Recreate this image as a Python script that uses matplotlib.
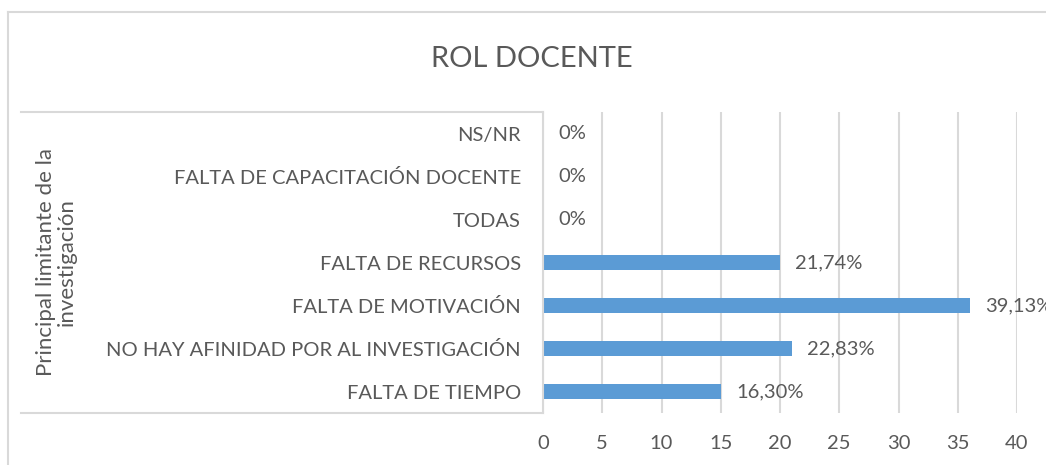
import matplotlib
matplotlib.use("Agg")
import matplotlib.pyplot as plt
from matplotlib.lines import Line2D

plt.rcParams['font.family'] = ['Lato', 'DejaVu Sans']

categories = ["FALTA DE TIEMPO", "NO HAY AFINIDAD POR AL INVESTIGACIÓN",
              "FALTA DE MOTIVACIÓN", "FALTA DE RECURSOS", "TODAS",
              "FALTA DE CAPACITACIÓN DOCENTE", "NS/NR"]
counts = [15, 21, 36, 20, 0, 0, 0]
labels = ["16,30%", "22,83%", "39,13%", "21,74%", "0%", "0%", "0%"]
xticks = [0, 5, 10, 15, 20, 25, 30, 35, 40]
title = "ROL DOCENTE"
ylabel = "Principal limitante de la\ninvestigación"

W, H = 1046, 465
fig = plt.figure(figsize=(W / 100, H / 100), dpi=100)
fig.patch.set_facecolor("white")

x0, x1, ytop, ybot = 543, 1017, 112, 413
ax = fig.add_axes([x0 / W, 1 - ybot / H, (x1 - x0) / W, (ybot - ytop) / H])

gray = "#595959"
grid = "#D9D9D9"
ypos = list(range(len(categories)))
ax.barh(ypos, counts, height=0.35, color="#5B9BD5", zorder=3)
ax.set_xlim(0, 40)
ax.set_ylim(-0.5, len(categories) - 0.5)
ax.set_xticks(xticks)
ax.set_xticklabels([str(t) for t in xticks])
ax.set_yticks(ypos)
ax.set_yticklabels(categories)
ax.tick_params(axis="both", length=0, colors=gray, labelsize=14.5)
ax.tick_params(axis="x", pad=16)
ax.tick_params(axis="y", pad=16)
for s in ax.spines.values():
    s.set_visible(False)
ax.xaxis.grid(True, color=grid, linewidth=1.5, zorder=0)
ax.set_axisbelow(True)

for y, v, lab in zip(ypos, counts, labels):
    ax.annotate(lab, (v, y), xytext=(11, 0), textcoords="offset points",
                va="center", ha="left", fontsize=14.5, color=gray,
                annotation_clip=False)

# category box lines
lc = "#D9D9D9"
fig.add_artist(Line2D([21 / W, x0 / W], [1 - ytop / H, 1 - ytop / H], color=lc, lw=1.5))
fig.add_artist(Line2D([21 / W, x0 / W], [1 - ybot / H, 1 - ybot / H], color=lc, lw=1.5))
fig.add_artist(Line2D([x0 / W, x0 / W], [1 - ytop / H, 1 - ybot / H], color=lc, lw=1.5))

# chart outer border
fig.add_artist(Line2D([8 / W, 1.0], [1 - 12 / H, 1 - 12 / H], color=lc, lw=1.5))
fig.add_artist(Line2D([8 / W, 8 / W], [1 - 12 / H, 0], color=lc, lw=1.5))

fig.text(532 / W, 1 - 59 / H, title, ha="center", va="center", fontsize=21,
         color=gray, fontweight="normal")
fig.text(56 / W, 1 - 262 / H, ylabel, ha="center", va="center", rotation=90,
         fontsize=16, color=gray, linespacing=1.05)

fig.savefig("out.png", dpi=100, facecolor="white")
